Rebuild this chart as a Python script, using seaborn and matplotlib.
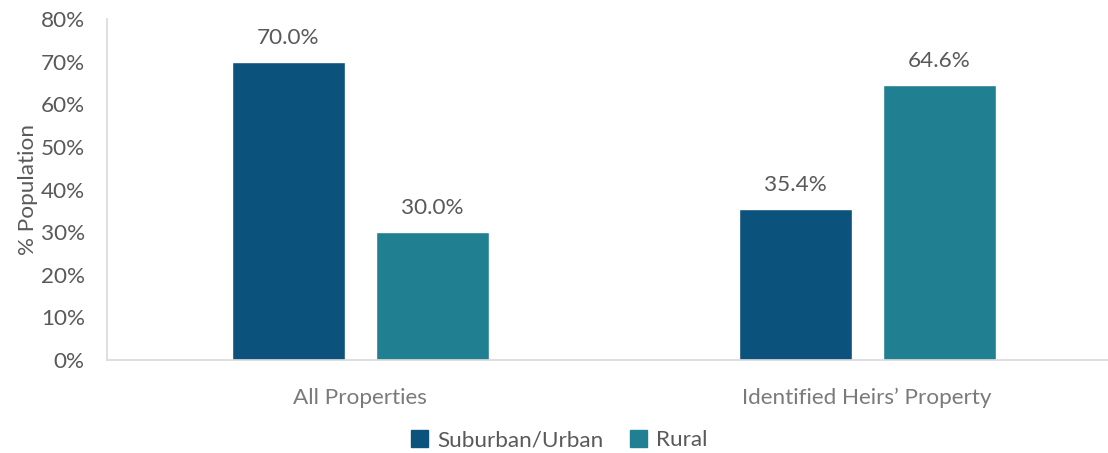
import pandas as pd
import matplotlib.pyplot as plt
import seaborn as sns
from matplotlib.patches import Patch

sns.set_style("white")
plt.rcParams['font.family'] = ['Lato', 'DejaVu Sans']

df = pd.DataFrame({
    'group': ['All Properties', 'All Properties',
              'Identified Heirs\u2019 Property', 'Identified Heirs\u2019 Property'],
    'area': ['Suburban/Urban', 'Rural', 'Suburban/Urban', 'Rural'],
    'pct': [70.0, 30.0, 35.4, 64.6],
})
colors = {'Suburban/Urban': '#0B527C', 'Rural': '#217F92'}
txt = '#595959'
fs = 16.2

fig = plt.figure(figsize=(11.08, 4.53), dpi=100)
ax = fig.add_axes([0.0966, 0.205, 0.9034, 0.753])
sns.barplot(data=df, x='group', y='pct', hue='area', palette=colors,
            width=0.568, gap=0.215, ax=ax, legend=False, saturation=1)

for c in ax.containers:
    ax.bar_label(c, labels=[f'{v:.1f}%' for v in c.datavalues],
                 padding=10, fontsize=fs, color=txt)

ax.set_ylim(0, 80)
ax.set_xlim(-0.499, 1.475)
ax.set_yticks(range(0, 81, 10))
ax.set_yticklabels([f'{v}%' for v in range(0, 81, 10)])
ax.set_xlabel('')
ax.set_ylabel('% Population', fontsize=fs, color=txt, labelpad=2)
ax.tick_params(axis='both', labelsize=fs, length=0)
ax.tick_params(axis='y', pad=16, colors=txt)
ax.tick_params(axis='x', pad=20, colors='#7A7A7A')
for s in ['top', 'right']:
    ax.spines[s].set_visible(False)
for s in ['left', 'bottom']:
    ax.spines[s].set_color('#D9D9D9')
    ax.spines[s].set_linewidth(1.2)

handles = [Patch(color=colors[k], label=k) for k in colors]
fig.legend(handles=handles, loc='center', bbox_to_anchor=(0.505, 0.028),
           ncol=2, frameon=False, fontsize=fs, handlelength=0.75,
           handleheight=0.75, handletextpad=0.4, columnspacing=1.2,
           labelcolor=txt)

fig.savefig('out.png', dpi=100)
